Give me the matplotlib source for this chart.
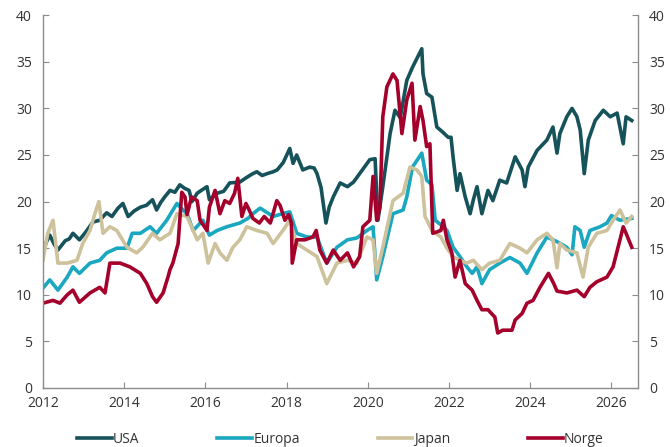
import matplotlib.pyplot as plt

# dato som desimalår, verdier lest av figuren
usa_x = [2012.0, 2012.08, 2012.17, 2012.27, 2012.37, 2012.55, 2012.65, 2012.74, 2012.9, 2013.05,
         2013.23, 2013.4, 2013.57, 2013.7, 2013.85, 2013.97, 2014.1, 2014.25, 2014.4, 2014.55,
         2014.7, 2014.8, 2014.9, 2015.0, 2015.13, 2015.25, 2015.37, 2015.5, 2015.6, 2015.67,
         2015.8, 2015.9, 2016.04, 2016.1, 2016.29, 2016.45, 2016.6, 2016.85, 2017.02, 2017.17,
         2017.27, 2017.4, 2017.52, 2017.67, 2017.77, 2017.92, 2018.08, 2018.16, 2018.25, 2018.4,
         2018.57, 2018.68, 2018.75, 2018.85, 2018.97, 2019.05, 2019.15, 2019.32, 2019.5, 2019.65,
         2019.8, 2020.05, 2020.18, 2020.25, 2020.37, 2020.55, 2020.67, 2020.8, 2020.96, 2021.1,
         2021.33, 2021.36, 2021.45, 2021.58, 2021.7, 2021.86, 2021.98, 2022.05, 2022.1, 2022.2,
         2022.27, 2022.4, 2022.52, 2022.6, 2022.69, 2022.81, 2022.96, 2023.08, 2023.25, 2023.42,
         2023.63, 2023.8, 2023.87, 2023.95, 2024.17, 2024.41, 2024.56, 2024.66, 2024.73, 2024.9,
         2025.03, 2025.15, 2025.23, 2025.33, 2025.43, 2025.6, 2025.8, 2025.97, 2026.14, 2026.29,
         2026.36, 2026.5]
usa = [14.5, 15.6, 16.4, 15.5, 14.8, 15.8, 16.0, 16.6, 15.9, 16.7,
       17.8, 18.0, 18.8, 18.4, 19.3, 19.8, 18.4, 19.0, 19.4, 19.6,
       20.2, 19.1, 19.9, 20.5, 21.2, 21.0, 21.8, 21.4, 21.2, 20.0,
       20.9, 21.2, 21.6, 20.2, 20.9, 21.1, 22.0, 22.1, 22.6, 23.0,
       23.2, 22.8, 23.0, 23.2, 23.4, 24.2, 25.7, 24.1, 25.0, 23.4,
       23.7, 23.6, 23.0, 21.5, 17.7, 19.4, 20.5, 22.0, 21.6, 22.1,
       23.0, 24.5, 24.6, 18.0, 21.6, 27.3, 29.8, 29.0, 33.0, 34.4,
       36.4, 33.7, 31.6, 31.2, 28.0, 27.4, 26.9, 26.9, 24.8, 21.2,
       23.0, 20.5, 18.7, 20.2, 21.6, 18.7, 21.2, 20.1, 22.3, 22.0,
       24.8, 23.4, 21.6, 23.7, 25.5, 26.6, 28.0, 25.2, 27.3, 29.1,
       30.0, 29.1, 27.7, 23.0, 26.6, 28.7, 29.8, 29.1, 29.5, 26.2,
       29.1, 28.7]

europa_x = [2012.0, 2012.17, 2012.37, 2012.6, 2012.74, 2012.9, 2013.16, 2013.4, 2013.57, 2013.82,
            2014.07, 2014.2, 2014.4, 2014.64, 2014.8, 2015.05, 2015.3, 2015.45, 2015.55, 2015.7,
            2015.94, 2016.1, 2016.29, 2016.53, 2016.85, 2017.05, 2017.17, 2017.35, 2017.67, 2017.9,
            2018.08, 2018.25, 2018.5, 2018.75, 2018.99, 2019.24, 2019.5, 2019.73, 2019.98, 2020.13,
            2020.22, 2020.37, 2020.62, 2020.87, 2020.96, 2021.1, 2021.33, 2021.45, 2021.58, 2021.66,
            2021.86, 2021.95, 2022.1, 2022.27, 2022.44, 2022.57, 2022.69, 2022.81, 2023.0, 2023.25,
            2023.5, 2023.75, 2023.92, 2024.17, 2024.41, 2024.66, 2024.9, 2025.03, 2025.1, 2025.23,
            2025.33, 2025.47, 2025.72, 2025.89, 2026.0, 2026.21, 2026.5]
europa = [10.7, 11.6, 10.5, 11.9, 13.0, 12.3, 13.4, 13.7, 14.5, 15.0,
          15.0, 16.6, 16.6, 17.3, 16.6, 18.0, 19.8, 19.1, 18.7, 16.9,
          18.0, 16.4, 16.9, 17.3, 17.7, 18.2, 18.7, 19.3, 18.4, 18.7,
          18.9, 16.6, 16.2, 16.2, 13.4, 15.1, 15.9, 16.1, 16.9, 17.3,
          11.6, 14.1, 18.7, 19.1, 20.5, 23.7, 25.2, 22.3, 21.8, 18.0,
          17.3, 16.9, 15.1, 14.1, 13.0, 12.3, 13.0, 11.2, 12.7, 13.4,
          14.0, 13.4, 12.3, 14.5, 16.2, 15.7, 15.1, 14.3, 17.3, 16.9,
          15.1, 16.9, 17.3, 17.7, 18.5, 18.0, 18.2]

japan_x = [2012.0, 2012.12, 2012.25, 2012.37, 2012.6, 2012.84, 2012.98, 2013.16, 2013.28, 2013.38,
           2013.48, 2013.65, 2013.82, 2014.07, 2014.31, 2014.46, 2014.7, 2014.88, 2015.13, 2015.3,
           2015.55, 2015.7, 2015.8, 2015.94, 2016.07, 2016.24, 2016.36, 2016.53, 2016.68, 2016.85,
           2017.02, 2017.27, 2017.52, 2017.67, 2017.91, 2018.08, 2018.25, 2018.5, 2018.75, 2018.99,
           2019.24, 2019.5, 2019.73, 2019.98, 2020.13, 2020.22, 2020.37, 2020.62, 2020.87, 2021.04,
           2021.21, 2021.33, 2021.41, 2021.58, 2021.8, 2021.95, 2022.1, 2022.27, 2022.44, 2022.6,
           2022.81, 2023.0, 2023.25, 2023.5, 2023.75, 2023.92, 2024.17, 2024.41, 2024.56, 2024.66,
           2024.73, 2024.9, 2025.15, 2025.3, 2025.43, 2025.64, 2025.89, 2026.04, 2026.21, 2026.36,
           2026.5]
japan = [13.7, 16.6, 18.0, 13.4, 13.4, 13.7, 15.5, 16.9, 18.7, 20.0,
         16.6, 17.3, 16.9, 15.1, 14.5, 15.1, 16.6, 15.9, 16.6, 18.7,
         18.4, 16.9, 15.9, 16.6, 13.4, 15.5, 14.5, 13.7, 15.1, 15.9,
         17.3, 16.9, 16.6, 15.5, 16.9, 18.0, 15.5, 14.8, 14.1, 11.2,
         13.4, 13.7, 13.4, 16.2, 15.9, 12.3, 15.1, 20.1, 20.9, 23.7,
         23.4, 22.7, 18.4, 16.9, 16.2, 15.0, 14.1, 13.7, 13.4, 13.7,
         12.7, 13.4, 13.7, 15.5, 15.0, 14.5, 15.9, 16.6, 15.9, 12.9,
         15.5, 14.8, 14.5, 11.9, 15.1, 16.6, 16.9, 18.0, 19.1, 17.7,
         18.4]

norge_x = [2012.0, 2012.25, 2012.42, 2012.6, 2012.74, 2012.9, 2013.16, 2013.4, 2013.53, 2013.65,
           2013.9, 2014.14, 2014.4, 2014.56, 2014.7, 2014.8, 2014.96, 2015.08, 2015.13, 2015.2,
           2015.33, 2015.42, 2015.5, 2015.55, 2015.66, 2015.8, 2015.87, 2016.04, 2016.1, 2016.24,
           2016.36, 2016.48, 2016.6, 2016.72, 2016.8, 2016.9, 2017.0, 2017.08, 2017.17, 2017.33,
           2017.45, 2017.6, 2017.76, 2017.84, 2017.96, 2018.05, 2018.12, 2018.14, 2018.25, 2018.45,
           2018.65, 2018.73, 2018.82, 2018.99, 2019.15, 2019.32, 2019.5, 2019.65, 2019.8, 2019.88,
           2020.05, 2020.13, 2020.22, 2020.3, 2020.37, 2020.47, 2020.62, 2020.72, 2020.84, 2020.96,
           2021.09, 2021.16, 2021.29, 2021.36, 2021.45, 2021.53, 2021.6, 2021.8, 2021.86, 2021.95,
           2022.07, 2022.15, 2022.27, 2022.4, 2022.57, 2022.69, 2022.81, 2022.96, 2023.13, 2023.2,
           2023.32, 2023.55, 2023.63, 2023.8, 2023.92, 2024.07, 2024.24, 2024.45, 2024.58, 2024.66,
           2024.9, 2025.15, 2025.33, 2025.47, 2025.64, 2025.89, 2026.04, 2026.21, 2026.29, 2026.36,
           2026.5]
norge = [9.1, 9.4, 9.1, 10.0, 10.5, 9.2, 10.2, 10.8, 10.2, 13.4,
         13.4, 13.0, 12.3, 11.2, 9.8, 9.2, 10.2, 11.9, 12.7, 13.4,
         15.5, 21.0, 20.5, 18.6, 20.5, 20.1, 18.0, 16.9, 19.4, 21.2,
         18.7, 20.1, 19.8, 20.9, 22.5, 18.4, 19.8, 19.1, 18.2, 17.7,
         18.4, 17.7, 20.1, 19.6, 18.0, 18.6, 17.7, 13.4, 15.9, 15.9,
         16.2, 16.9, 14.8, 13.4, 14.8, 13.7, 14.5, 13.0, 14.1, 17.3,
         18.0, 22.7, 18.0, 19.4, 29.1, 32.3, 33.7, 33.0, 27.3, 30.9,
         32.7, 26.6, 30.2, 28.7, 25.9, 26.2, 16.6, 16.9, 18.0, 15.9,
         14.5, 11.9, 13.7, 11.2, 10.5, 9.4, 8.4, 8.4, 7.6, 5.9,
         6.2, 6.2, 7.3, 8.0, 9.1, 9.4, 10.8, 12.3, 11.2, 10.4,
         10.2, 10.5, 9.8, 10.8, 11.4, 11.9, 13.0, 15.9, 17.3, 16.6,
         15.1]

aar = [2012, 2014, 2016, 2018, 2020, 2022, 2024, 2026]
yticks = [0, 5, 10, 15, 20, 25, 30, 35, 40]

plt.rcParams['font.family'] = ['Open Sans', 'DejaVu Sans']
fig = plt.figure(figsize=(6.7, 4.47), dpi=100)
ax = fig.add_axes([0.064, 0.132, 0.888, 0.834])

lw = 2.6
ax.plot(usa_x, usa, color='#15525a', lw=lw, label='USA')
ax.plot(europa_x, europa, color='#1aa7c0', lw=lw, label='Europa')
ax.plot(japan_x, japan, color='#cdc29c', lw=lw, label='Japan')
ax.plot(norge_x, norge, color='#a4002b', lw=lw, label='Norge')

ax.set_xlim(2012, 2026.65)
ax.set_ylim(0, 40)
ax.set_xticks(aar)
ax.set_yticks(yticks)

ax.spines['top'].set_visible(False)
for s in ['left', 'right', 'bottom']:
    ax.spines[s].set_color('#8c8c8c')
    ax.spines[s].set_linewidth(1.0)
ax.tick_params(axis='both', direction='in', length=4, color='#8c8c8c',
               labelsize=10, labelcolor='#333333')
ax.tick_params(axis='y', right=True, labelright=True, pad=8)
ax.tick_params(axis='x', pad=6)

ax.legend(loc='upper center', bbox_to_anchor=(0.5, -0.085), ncol=4, frameon=False,
          handlelength=2.5, handletextpad=0.1, columnspacing=5.6, fontsize=10,
          labelcolor='#333333')

plt.savefig('out.png', dpi=100)
